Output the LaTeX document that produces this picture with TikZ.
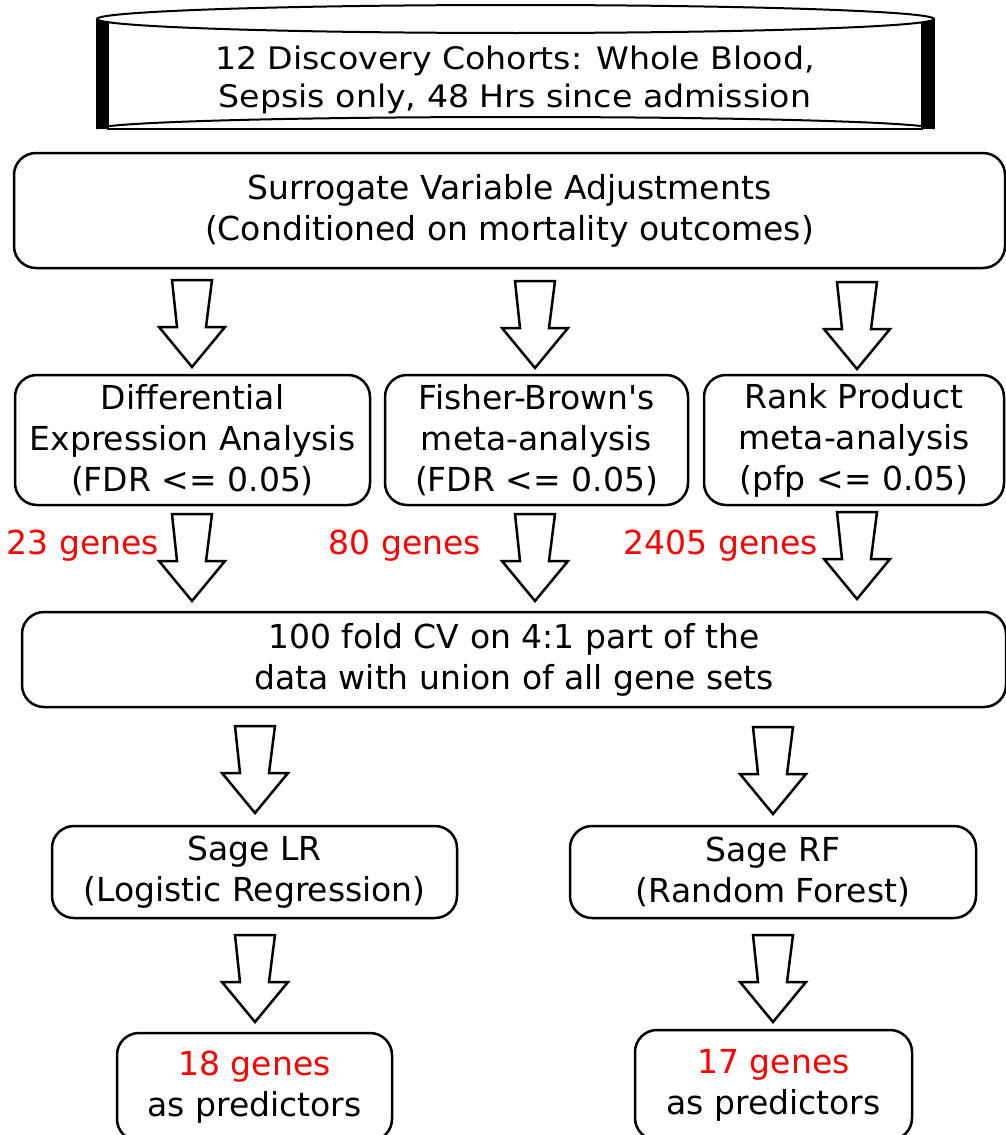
\documentclass[tikz,border=0pt]{standalone}
\usepackage{fontspec}
\setmainfont{DejaVu Sans}
\newfontfamily\condfont{DejaVu Sans Condensed}
\newcommand\straightq{\XeTeXglyph\the\XeTeXcharglyph"0027\relax}
\begin{document}
\begin{tikzpicture}[x=1pt,y=-1pt,line width=2.5pt,
  box/.style={draw, rounded corners=22pt, align=center, inner sep=0pt,
    font=\fontsize{33}{41}\selectfont},
  redlab/.style={text=red, inner sep=0pt, font=\fontsize{33}{41}\selectfont},
  barrow/.pic={\draw[line width=2.5pt, line join=miter, fill=white]
    (-20,0) -- (20,0) -- (14,47) -- (33,47) -- (0,87) -- (-33,47) -- (-15,47) -- cycle;}]
\useasboundingbox (0,0) rectangle (1006,1135);

% cylinder
\fill[black] (97,19) rectangle (108,129);
\fill[black] (922,19) rectangle (934,129);
\draw[line width=2pt] (97,19) -- (97,129);
\draw[line width=2pt] (934,19) -- (934,129);
\draw[line width=2pt, fill=white] (108,19) rectangle (922,129);
\draw[line width=2pt, fill=white] (515.5,19) ellipse [x radius=418.5, y radius=14];
\draw[line width=2pt] (97,129) arc [start angle=180, end angle=360, x radius=418.5, y radius=12];
\node[inner sep=0pt] (cyl) at (515,81)
  {\scalebox{1.19}[1]{\condfont\fontsize{31}{38}\selectfont
   \begin{tabular}{@{}c@{}}12 Discovery Cohorts: Whole Blood,\\Sepsis only, 48 Hrs since admission\end{tabular}}};

% surrogate box
\node[box, minimum width=991pt, minimum height=115pt] (sva) at (509.5,210.5)
  {Surrogate Variable Adjustments\\(Conditioned on mortality outcomes)};

% three analysis boxes
\node[box, minimum width=355pt, minimum height=130pt] (dea) at (192.5,440)
  {Dif\kern0ptferential\\Expression Analysis\\(FDR <= 0.05)};
\node[box, minimum width=303pt, minimum height=130pt] (fb) at (536.5,440)
  {Fisher-Brown\straightq s\\meta-analysis\\(FDR <= 0.05)};
\node[box, minimum width=300pt, minimum height=130pt] (rp) at (854,440)
  {Rank Product\\meta-analysis\\(pfp <= 0.05)};

% gene counts
\node[redlab] (g23) at (83,546) {23 genes};
\node[redlab] (g80) at (405,546) {80 genes};
\node[redlab] (g2405) at (721,546) {2405 genes};

% CV box
\node[box, minimum width=984pt, minimum height=95pt] (cv) at (514,659.5)
  {100 fold CV on 4:1 part of the\\data with union of all gene sets};

% Sage boxes
\node[box, minimum width=405pt, minimum height=92pt] (lr) at (254.5,872)
  {Sage LR\\(Logistic Regression)};
\node[box, minimum width=406pt, minimum height=92pt] (rf) at (773,872)
  {Sage RF\\(Random Forest)};

% result boxes
\node[box, minimum width=275pt, minimum height=108pt] (r18) at (254.5,1087)
  {\textcolor{red}{18 genes}\\as predictors};
\node[box, minimum width=277pt, minimum height=110pt] (r17) at (773.5,1085)
  {\textcolor{red}{17 genes}\\as predictors};

% block arrows
\pic at (192,280) {barrow};
\pic at (535,281) {barrow};
\pic at (857,282) {barrow};
\pic at (192,514) {barrow};
\pic at (535,514) {barrow};
\pic at (857,512) {barrow};
\pic at (255,726) {barrow};
\pic at (773,727) {barrow};
\pic at (255,935) {barrow};
\pic at (773,935) {barrow};
\end{tikzpicture}
\end{document}
